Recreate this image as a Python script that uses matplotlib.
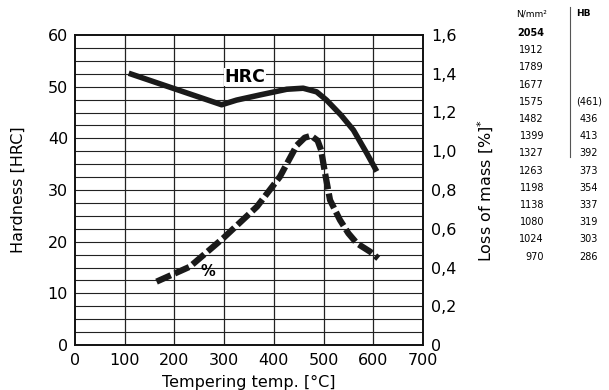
import matplotlib
matplotlib.use("Agg")
import matplotlib.pyplot as plt
from matplotlib.ticker import FixedLocator, FuncFormatter

# ---- data ----
hrc_temp = [108, 200, 295, 325, 372, 426, 459, 486, 506, 535, 560, 587, 607]
hrc_vals = [52.6, 49.6, 46.5, 47.4, 48.4, 49.5, 49.7, 49.0, 47.4, 44.5, 41.6, 37.1, 33.6]

mass_temp = [164, 231, 298, 366, 412, 446, 462, 475, 488, 495, 503, 513, 533, 550, 567, 594, 610]
mass_vals = [0.327, 0.404, 0.551, 0.714, 0.868, 1.03, 1.07, 1.08, 1.055, 1.006, 0.886, 0.748, 0.645, 0.576, 0.525, 0.481, 0.447]

x_ticks = [0, 100, 200, 300, 400, 500, 600, 700]
y_ticks = [0, 10, 20, 30, 40, 50, 60]
y2_ticks = [0, 0.2, 0.4, 0.6, 0.8, 1.0, 1.2, 1.4, 1.6]

strength = ["2054", "1912", "1789", "1677", "1575", "1482", "1399",
            "1327", "1263", "1198", "1138", "1080", "1024", "970"]
hb = ["", "", "", "", "(461)", "436", "413", "392", "373", "354", "337", "319", "303", "286"]

W, H = 609, 390
fig = plt.figure(figsize=(W / 100, H / 100), dpi=100)
ax = fig.add_axes([75 / W, 1 - 345 / H, (423 - 75) / W, (345 - 35) / H])

tick_font = dict(family="DejaVu Sans", size=11.5)
label_font = dict(family="DejaVu Sans", size=11.5)

ax.set_xlim(0, 700)
ax.set_ylim(0, 60)
# grid
for gx in range(100, 700, 100):
    ax.axvline(gx, color="#222222", lw=0.9, zorder=1)
for i in range(1, 24):
    ax.axhline(i * 2.5, color="#222222", lw=0.8, zorder=1)

ax.plot(hrc_temp, hrc_vals, color="#1a1a1a", lw=4.0, solid_capstyle="butt",
        solid_joinstyle="round", zorder=3)
ax.text(301, 51.9, "HRC", fontsize=12.5, fontweight="bold", family="DejaVu Sans",
        va="center", ha="left", zorder=4,
        bbox=dict(facecolor="white", edgecolor="none", pad=0.3))

ax.xaxis.set_major_locator(FixedLocator(x_ticks))
ax.yaxis.set_major_locator(FixedLocator(y_ticks))
ax.tick_params(axis="x", length=0, pad=6)
ax.tick_params(axis="y", length=0, pad=5)
ax.set_xticklabels([str(v) for v in x_ticks], **tick_font)
ax.set_yticklabels([str(v) for v in y_ticks], **tick_font)

ax.set_xlabel("Tempering temp. [°C]", labelpad=5, **label_font)
ax.set_ylabel("Hardness [HRC]", labelpad=16, **label_font)
for s in ax.spines.values():
    s.set_linewidth(1.2)
    s.set_color("#111111")

ax2 = ax.twinx()
ax2.set_ylim(0, 1.6)
ax2.plot(mass_temp, mass_vals, color="#1a1a1a", lw=4.5,
         linestyle=(0, (2.5, 0.7)), dash_capstyle="butt", zorder=3)
ax2.text(267, 0.38, "%", fontsize=10.5, fontweight="bold", family="DejaVu Sans",
         ha="center", va="center")
ax2.yaxis.set_major_locator(FixedLocator(y2_ticks))
ax2.yaxis.set_major_formatter(FuncFormatter(
    lambda v, p: "0" if abs(v) < 1e-9 else f"{v:.1f}".replace(".", ",")))
ax2.tick_params(length=0, pad=6)
for lab in ax2.get_yticklabels():
    lab.set_fontfamily(tick_font["family"])
    lab.set_fontsize(tick_font["size"])
ax2.set_ylabel("Loss of mass [%]$^{*}$", labelpad=14, **label_font)
for s in ax2.spines.values():
    s.set_linewidth(1.2)
    s.set_color("#111111")

# ---- conversion table ----
fs = 7
fig.text(547 / W, 1 - 14 / H, "N/mm²", ha="right", va="center", fontsize=fs - 0.5,
         family="DejaVu Sans")
fig.text(576 / W, 1 - 14 / H, "HB", ha="left", va="center", fontsize=fs - 0.5,
         family="DejaVu Sans", fontweight="bold")
for i, (s, h) in enumerate(zip(strength, hb)):
    y = 1 - (33 + i * 17.2) / H
    fig.text(544 / W, y, s, ha="right", va="center", fontsize=fs,
             family="DejaVu Sans", fontweight="bold" if i < 1 else "normal")
    if h:
        fig.text(589 / W, y, h, ha="center", va="center", fontsize=fs,
                 family="DejaVu Sans")
fig.add_artist(plt.Line2D([570 / W, 570 / W], [1 - 7 / H, 1 - 157 / H],
                          color="#555555", lw=0.8))

fig.savefig("out.png", dpi=100)
